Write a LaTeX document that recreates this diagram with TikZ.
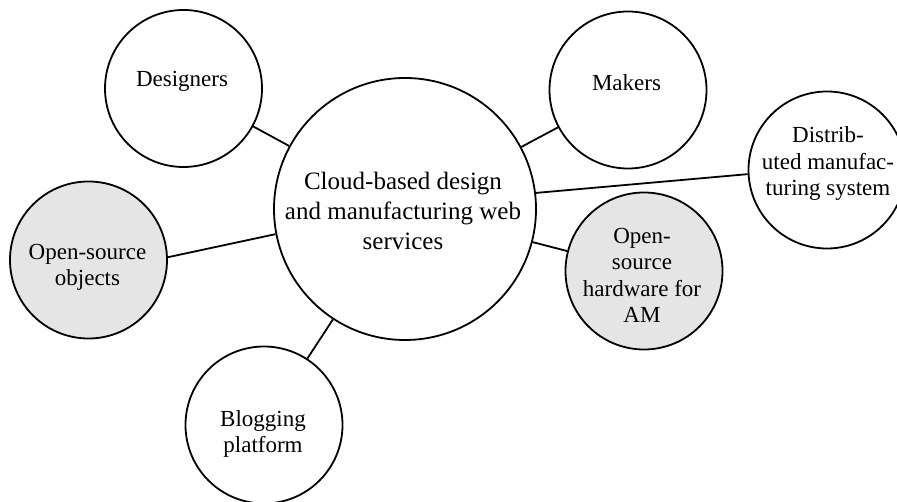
\documentclass[tikz,border=0pt]{standalone}
\usepackage{fontspec}
\setmainfont{Liberation Serif}
\begin{document}
\begin{tikzpicture}[x=1pt,y=-1pt,
  bubble/.style={draw=black,circle,line width=1.8pt,inner sep=0pt,minimum size=157pt,fill=white},
  greybubble/.style={bubble,fill=black!10},
  hub/.style={bubble,minimum size=262pt},
  link/.style={draw=black,line width=1.8pt},
  smalltext/.style={align=center,anchor=base,inner sep=0pt,font=\fontsize{23}{26.5}\selectfont},
  bigtext/.style={align=center,anchor=base,inner sep=0pt,font=\fontsize{25}{30}\selectfont}]
  \useasboundingbox (0,0) rectangle (897,502);
  \clip (0,0) rectangle (897,502);
  \fill[white] (0,0) rectangle (897,502);

  % circles
  \node[hub]        (cen)  at (405,209)   {};
  \node[bubble]     (des)  at (183.5,88.5) {};
  \node[bubble]     (mak)  at (628,90)    {};
  \node[bubble]     (dist) at (827,170)   {};
  \node[greybubble] (obj)  at (88.5,260)  {};
  \node[greybubble] (hw)   at (644,271)   {};
  \node[bubble]     (blog) at (264,425)   {};

  % connectors
  \draw[link] (des) -- (cen);
  \draw[link] (mak) -- (cen);
  \draw[link] (cen.7) -- (dist.183);
  \draw[link] (obj.2) -- (cen.191);
  \draw[link] (hw) -- (cen);
  \draw[link] (blog) -- (cen);

  % labels (placed by the baseline of their last line)
  \node[bigtext]   (tcen)  at (403,250)  {Cloud-based design\\and manufacturing web\\services};
  \node[smalltext] (tdes)  at (182,87)   {Designers};
  \node[smalltext] (tmak)  at (626.5,91) {Makers};
  \node[smalltext] (tdist) at (828,196)  {Distrib-\\uted manufac-\\turing system};
  \node[smalltext] (tobj)  at (87.5,286) {Open-source\\objects};
  \node[smalltext] (thw)   at (642,323)  {Open-\\source\\hardware for\\AM};
  \node[smalltext] (tblog) at (263,453)  {Blogging\\platform};
\end{tikzpicture}
\end{document}
